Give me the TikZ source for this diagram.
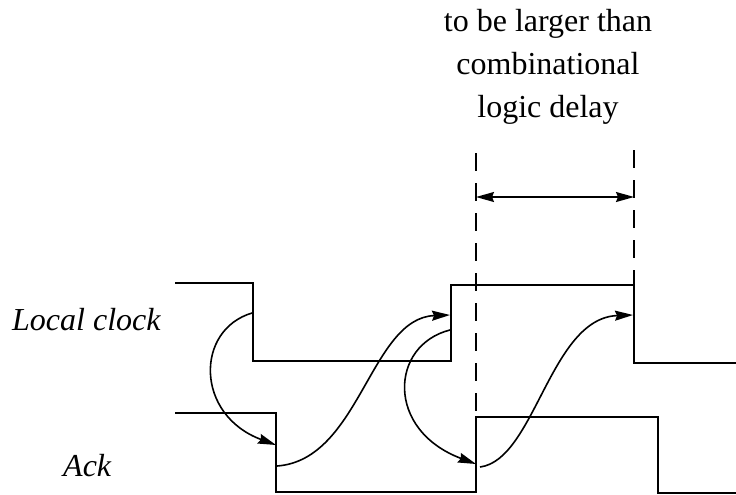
\documentclass[tikz,border=0pt]{standalone}
\usepackage{fontspec}
\setmainfont{Liberation Serif}
\usetikzlibrary{arrows.meta, positioning}

\begin{document}
\begin{tikzpicture}[x=1pt, y=-1pt,
    wave/.style={line width=2pt, line join=miter},
    guide/.style={line width=2pt, dash pattern=on 18pt off 12pt},
    cause/.style={line width=1.6pt, -{Stealth[length=18pt, width=10pt, inset=2pt]}},
    span/.style={line width=1.6pt, {Stealth[length=18pt, width=10pt, inset=2pt]}-{Stealth[length=18pt, width=10pt, inset=2pt]}},
    label/.style={font=\fontsize{32}{43}\selectfont, inner sep=0pt}]
  \useasboundingbox (0,0) rectangle (736,495);

  % signal names
  \node[label, anchor=base west, font=\fontsize{32}{43}\selectfont\itshape] (lclabel) at (12,330) {Local clock};
  \node[label, anchor=base west, font=\fontsize{32}{43}\selectfont\itshape] (acklabel) at (63,476) {Ack};
  \node[label, align=center] (note) at (548,67) {to be larger than\\combinational\\logic delay};

  % waveforms
  \draw[wave] (175,283) -- (253,283) -- (253,361) -- (451,361) -- (451,285) -- (634,285) -- (634,363) -- (736,363);
  \draw[wave] (175,413) -- (276,413) -- (276,492) -- (476,492) -- (476,417) -- (658,417) -- (658,493) -- (736,493);

  % timing guides
  \coordinate (g1top) at (476,153);
  \coordinate (g1bot) at (476,417);
  \coordinate (g2top) at (634,150);
  \coordinate (g2bot) at (634,285);
  \draw[guide] (g1top) -- (g1bot);
  \draw[guide] (g2top) -- (g2bot);
  \coordinate (d1) at (476,197);
  \coordinate (d2) at (634,197);
  \draw[span] (d1) -- (d2);

  % handshake edges
  \coordinate (lcfall) at (252,313);
  \coordinate (lcrise) at (450,315);
  \coordinate (lcrise2) at (450,330);
  \coordinate (lcfall2) at (633,315);
  \coordinate (ackfall) at (276,445);
  \coordinate (ackfall2) at (277,466);
  \coordinate (ackrise) at (476,464);
  \coordinate (ackrise2) at (480,467);
  \draw[cause] (lcfall) .. controls (195,330) and (195,415) .. (ackfall);
  \draw[cause] (ackfall2) .. controls (360,460) and (370,318) .. (lcrise);
  \draw[cause] (lcrise2) .. controls (390,345) and (385,430) .. (ackrise);
  \draw[cause] (ackrise2) .. controls (535,460) and (550,318) .. (lcfall2);
\end{tikzpicture}
\end{document}
